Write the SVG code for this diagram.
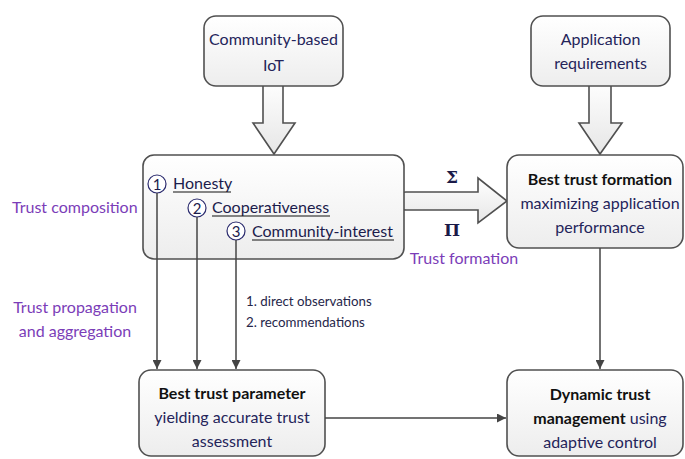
<svg xmlns="http://www.w3.org/2000/svg" width="685" height="459" viewBox="0 0 685 459">
  <defs>
    <linearGradient id="boxFill" x1="0" y1="0" x2="0" y2="1">
      <stop offset="0" stop-color="#ffffff"/>
      <stop offset="1" stop-color="#ededed"/>
    </linearGradient>
    <linearGradient id="arrowFill" x1="0" y1="0" x2="0" y2="1">
      <stop offset="0" stop-color="#ffffff"/>
      <stop offset="1" stop-color="#e6e6e6"/>
    </linearGradient>
    <marker id="head" viewBox="0 0 10 10" refX="10" refY="5" markerWidth="9" markerHeight="9" markerUnits="userSpaceOnUse" orient="auto">
      <path d="M0,0 L10,5 L0,10 z" fill="#444"/>
    </marker>
  </defs>
  <style>
    .box { fill: url(#boxFill); stroke: #505050; stroke-width: 1.6; }
    .blk { fill: url(#arrowFill); stroke: #505050; stroke-width: 1.6; stroke-linejoin: miter; }
    .t { font-family: Lato, "Open Sans", "Liberation Sans", sans-serif; font-size: 16px; fill: #24245a; text-anchor: middle; }
    .b { font-weight: bold; fill: #111; }
    .lbl { font-family: Lato, "Open Sans", "Liberation Sans", sans-serif; font-size: 16px; fill: #7b3db8; }
    .sm { font-family: Lato, "Open Sans", "Liberation Sans", sans-serif; font-size: 13.3px; fill: #26264a; }
    .item { font-family: Lato, "Open Sans", "Liberation Sans", sans-serif; font-size: 16px; fill: #1c1c4c; }
    .num { font-family: Lato, "Open Sans", "Liberation Sans", sans-serif; font-size: 15px; fill: #1c1c4c; text-anchor: middle; }
    .ring { fill: #fff; stroke: #2b2b6e; stroke-width: 1.2; }
    .ul { stroke: #111; stroke-width: 1.1; }
    .wire { fill: none; stroke: #444; stroke-width: 1.5; marker-end: url(#head); }
    .sym { font-family: "DejaVu Serif", "Liberation Serif", serif; font-size: 17px; font-weight: bold; fill: #1a1a48; text-anchor: middle; }
  </style>

  <!-- block arrows feeding the central boxes -->
  <g id="block-arrows">
    <path class="blk" d="M263,80 L283,80 L283,123 L295,123 L274,154 L253,123 L263,123 Z"/>
    <path class="blk" d="M589,80 L611,80 L611,123 L622,123 L600,154 L579,123 L589,123 Z"/>
    <path class="blk" d="M396,200 Q396,192 406,192 L478,192 L478,178 L507,201 L478,223 L478,210 L406,210 Q396,210 396,200 Z"/>
  </g>

  <!-- source boxes -->
  <g id="community-iot">
    <rect class="box" x="204" y="16" width="139" height="70" rx="12"/>
    <text class="t" x="273.5" y="45">Community-based</text>
    <text class="t" x="273.5" y="71">IoT</text>
  </g>
  <g id="app-requirements">
    <rect class="box" x="531" y="16" width="139" height="70" rx="12"/>
    <text class="t" x="600.5" y="45">Application</text>
    <text class="t" x="600.5" y="69">requirements</text>
  </g>

  <!-- trust composition box -->
  <g id="trust-properties">
    <rect class="box" x="143" y="155" width="261" height="104" rx="11"/>
    <circle class="ring" cx="157" cy="184" r="9"/>
    <text class="num" x="157" y="189.5">1</text>
    <text class="item" x="173" y="189">Honesty</text>
    <line class="ul" x1="173" y1="192" x2="231" y2="192"/>
    <circle class="ring" cx="197" cy="208" r="9"/>
    <text class="num" x="197" y="213.5">2</text>
    <text class="item" x="212" y="213">Cooperativeness</text>
    <line class="ul" x1="212" y1="216" x2="330" y2="216"/>
    <circle class="ring" cx="236" cy="231" r="9"/>
    <text class="num" x="236" y="236.5">3</text>
    <text class="item" x="252" y="237">Community-interest</text>
    <line class="ul" x1="252" y1="240" x2="394" y2="240"/>
  </g>

  <g id="best-formation">
    <rect class="box" x="507" y="155" width="176" height="93" rx="12"/>
    <text class="t b" x="600" y="185">Best trust formation</text>
    <text class="t" x="600" y="209">maximizing application</text>
    <text class="t" x="600" y="233">performance</text>
  </g>

  <g id="best-parameter">
    <rect class="box" x="139" y="370" width="186" height="86" rx="12"/>
    <text class="t b" x="232" y="399">Best trust parameter</text>
    <text class="t" x="232" y="423">yielding accurate trust</text>
    <text class="t" x="232" y="447">assessment</text>
  </g>

  <g id="dynamic-management">
    <rect class="box" x="507" y="370" width="176" height="86" rx="12"/>
    <text class="t b" x="600" y="400">Dynamic trust</text>
    <text class="t" x="600" y="424"><tspan class="b">management</tspan> using</text>
    <text class="t" x="600" y="448">adaptive control</text>
  </g>

  <!-- connectors -->
  <g id="connectors">
    <line class="wire" x1="157" y1="193" x2="157" y2="369"/>
    <line class="wire" x1="197" y1="217" x2="197" y2="369"/>
    <line class="wire" x1="236" y1="240" x2="236" y2="369"/>
    <line class="wire" x1="600" y1="248" x2="600" y2="369"/>
    <line class="wire" x1="325" y1="418" x2="506" y2="418"/>
  </g>

  <!-- free labels -->
  <g id="labels">
    <text class="lbl" x="12" y="213">Trust composition</text>
    <text class="lbl" x="75" y="313" text-anchor="middle">Trust propagation</text>
    <text class="lbl" x="75" y="337" text-anchor="middle">and aggregation</text>
    <text class="lbl" x="464" y="264" text-anchor="middle">Trust formation</text>
    <text class="sm" x="246" y="306">1. direct observations</text>
    <text class="sm" x="246" y="327">2. recommendations</text>
    <text class="sym" x="452" y="183">Σ</text>
    <text class="sym" x="452" y="236">Π</text>
  </g>
</svg>
